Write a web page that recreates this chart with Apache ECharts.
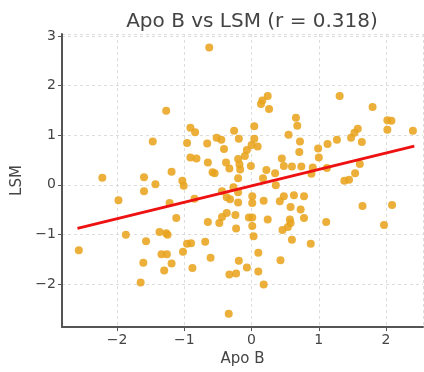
<!DOCTYPE html>
<html>
<head>
<meta charset="utf-8">
<script src="https://cdn.jsdelivr.net/npm/echarts@6/dist/echarts.min.js"></script>
<style>
  html, body { margin: 0; padding: 0; background: #fff; }
  #chart { width: 424px; height: 372px; }
</style>
</head>
<body>
<div id="chart"></div>
<script>
// Apo B (x) values
var apoB = [
  -0.63, -1.27, -1.47, -2.22, -1.60, -1.19, -1.03, -1.01, 0.24, 0.16,
  0.14, 0.26, 0.66, 0.68, -0.91, -0.84, -0.26, 0.04, 0.55, -0.96,
  -0.66, -0.52, -0.45, -0.19, 0.04, -0.41, 0.00, 0.09, -0.07, -0.10,
  -0.20, 0.72, 0.71, -0.91, -0.82, -0.65, -0.38, -0.33, -0.18, -0.17,
  -0.58, -0.55, -0.01, 0.22, 0.35, 0.45, 0.48, 0.60, 0.74, -0.20,
  0.17, 1.31, 1.80, 2.02, 2.08, 2.02, 2.40, 1.58, 1.53, 1.48,
  1.64, 1.27, 1.13, 0.99, 1.00, 0.91, 0.89, 1.12, 1.61, 1.54,
  1.38, 1.45, 0.78, 0.73, 0.78, 1.11, 0.88, 1.65, 2.09, 1.97,
  -1.43, -1.60, -1.98, -1.22, -1.12, -1.87, -1.57, -1.37, -1.27, -1.25,
  -2.57, -1.34, -1.26, -1.02, -1.61, -1.19, -1.30, -1.65, 0.36, -0.44,
  -0.27, -0.85, -0.37, -0.32, -0.20, -0.20, 0.01, 0.01, 0.18, 0.42,
  0.48, 0.63, 0.58, -0.44, -0.37, -0.48, -0.65, -0.24, -0.04, 0.01,
  0.01, 0.24, -0.23, 0.03, 0.57, 0.58, 0.54, 0.46, 0.60, -0.96,
  -0.90, -0.69, -0.61, 0.10, -0.19, 0.43, -0.88, -0.07, -0.33, -0.23,
  0.10, 0.18, -0.34
];
// LSM (y) values, same order
var lsm = [
  2.77, 1.49, 0.87, 0.14, 0.15, 0.26, 0.08, -0.02, 1.79, 1.70,
  1.63, 1.53, 1.35, 1.19, 1.15, 1.06, 1.09, 1.18, 1.01, 0.84,
  0.83, 0.95, 0.91, 0.93, 0.93, 0.72, 0.80, 0.77, 0.70, 0.58,
  0.52, 0.87, 0.66, 0.55, 0.53, 0.45, 0.45, 0.33, 0.41, 0.31,
  0.25, 0.23, 0.38, 0.30, 0.23, 0.53, 0.38, 0.37, 0.37, 0.13,
  0.13, 1.79, 1.57, 1.30, 1.29, 1.11, 1.09, 1.13, 1.05, 0.95,
  0.86, 0.91, 0.82, 0.73, 0.55, 0.35, 0.22, 0.34, 0.42, 0.23,
  0.08, 0.10, -0.23, -0.50, -0.67, -0.75, -1.19, -0.43, -0.41, -0.81,
  0.01, -0.13, -0.31, -0.37, -0.67, -1.01, -1.14, -0.95, -0.98, -1.01,
  -1.32, -1.40, -1.40, -1.35, -1.57, -1.59, -1.73, -1.97, -0.01, -0.13,
  -0.05, -0.28, -0.25, -0.29, -0.15, -0.36, -0.23, -0.37, -0.32, -0.33,
  -0.23, -0.21, -0.45, -0.65, -0.57, -0.77, -0.75, -0.61, -0.66, -0.66,
  -0.83, -0.70, -0.88, -1.04, -0.70, -0.77, -0.85, -0.91, -1.11, -1.19,
  -1.18, -1.15, -1.47, -1.37, -1.53, -1.52, -1.68, -1.67, -1.81, -1.79,
  -1.75, -2.01, -2.60
];
// fitted line end points
var fitX = [-2.59, 2.42];
var fitY = [-0.88, 0.78];

var points = apoB.map(function (x, i) { return [x, lsm[i]]; });
var fitLine = fitX.map(function (x, i) { return [x, fitY[i]]; });

function minus(v) { return String(v).replace('-', '\u2212'); }

var chart = echarts.init(document.getElementById('chart'));
var font = 'DejaVu Sans';
chart.setOption({
  animation: false,
  title: {
    text: 'Apo B vs LSM (r = 0.318)',
    left: 247,
    textAlign: 'center',
    top: 7,
    textStyle: { fontFamily: font, fontSize: 20, fontWeight: 'normal', color: '#444' }
  },
  grid: { left: 62, right: 1, top: 34, bottom: 43 },
  xAxis: {
    type: 'value',
    min: -2.82, max: 2.55,
    minInterval: 1, maxInterval: 1,
    name: 'Apo B',
    nameLocation: 'middle',
    nameGap: 22,
    nameTextStyle: { fontFamily: font, fontSize: 15, color: '#444' },
    axisLine: { onZero: false, lineStyle: { color: '#555', width: 2 } },
    axisTick: { length: 4, lineStyle: { color: '#555' } },
    axisLabel: { showMinLabel: false, showMaxLabel: false, fontFamily: font, fontSize: 14, color: '#444', margin: 6, formatter: minus },
    splitLine: { lineStyle: { color: '#ddd', type: [3, 3] } }
  },
  yAxis: {
    type: 'value',
    min: -2.87, max: 3.04,
    minInterval: 1, maxInterval: 1,
    name: 'LSM',
    nameLocation: 'middle',
    nameGap: 33,
    nameTextStyle: { fontFamily: font, fontSize: 15, color: '#444' },
    axisLine: { show: true, onZero: false, lineStyle: { color: '#555', width: 2 } },
    axisTick: { show: true, length: 4, lineStyle: { color: '#555' } },
    axisLabel: { showMinLabel: false, showMaxLabel: false, fontFamily: font, fontSize: 14, color: '#444', margin: 6, formatter: minus },
    splitLine: { lineStyle: { color: '#ddd', type: [3, 3] } }
  },
  series: [
    {
      type: 'scatter',
      data: points,
      symbolSize: 8,
      itemStyle: { color: '#e8a41f', opacity: 0.88 }
    },
    {
      type: 'line',
      data: fitLine,
      symbol: 'none',
      lineStyle: { color: '#ee1111', width: 3 },
      z: 3
    }
  ]
});
</script>
</body>
</html>
